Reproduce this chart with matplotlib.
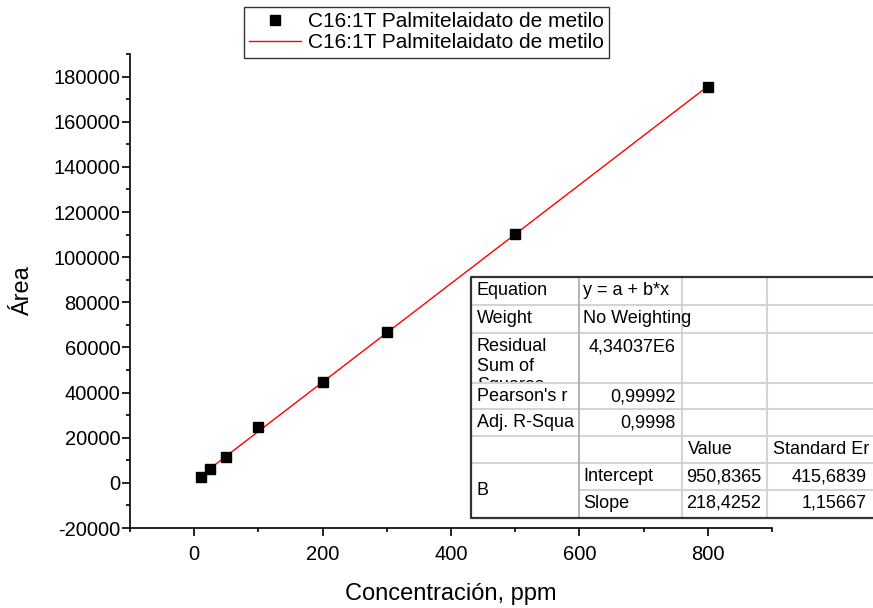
import numpy as np
import matplotlib.pyplot as plt
from matplotlib.lines import Line2D
from matplotlib.ticker import MultipleLocator

plt.rcParams['font.family'] = ['Liberation Sans', 'DejaVu Sans']
plt.rcParams['axes.unicode_minus'] = False

# --- Datos ---
conc = [10, 25, 50, 100, 200, 300, 500, 800]
area = [2500, 6000, 11400, 24600, 44500, 67000, 110400, 175200]
intercept = 950.8365
slope = 218.4252
serie = 'C16:1T Palmitelaidato de metilo'

# texto de la tabla de ajuste (fila por fila, 4 columnas)
tabla = [
    ['Equation', 'y = a + b*x', '', ''],
    ['Weight', 'No Weighting', '', ''],
    ['Residual\nSum of\nSquares', '4,34037E6', '', ''],
    ["Pearson's r", '0,99992', '', ''],
    ['Adj. R-Squa', '0,9998', '', ''],
    ['', '', 'Value', 'Standard Er'],
    ['', 'Intercept', '950,8365', '415,6839'],
    ['', 'Slope', '218,4252', '1,15667'],
]

W, H = 873, 608
fig = plt.figure(figsize=(W / 100, H / 100), dpi=100)
ax = fig.add_axes([130 / W, 1 - 528 / H, (772 - 130) / W, (528 - 54) / H])

ax.plot(conc, area, 's', color='black', markersize=7.7, label=serie, zorder=3)
xfit = np.array([conc[0], conc[-1]])
ax.plot(xfit, intercept + slope * xfit, '-', color='red', lw=1, label=serie, zorder=2)

ax.set_xlim(-100, 900)
ax.set_ylim(-20000, 190000)
ax.xaxis.set_minor_locator(MultipleLocator(100))
ax.yaxis.set_minor_locator(MultipleLocator(10000))
ax.set_yticks(np.arange(-20000, 180001, 20000))
ax.set_xticks(np.arange(0, 801, 200))
for s in ['top', 'right']:
    ax.spines[s].set_visible(False)
for s in ['left', 'bottom']:
    ax.spines[s].set_linewidth(1.2)
ax.tick_params(which='major', length=6, width=1.2, labelsize=14.5, direction='out')
ax.tick_params(which='minor', length=3.2, width=1.2, direction='out')
ax.tick_params(axis='x', which='major', pad=6)
ax.tick_params(axis='y', which='major', pad=1)
ax.set_xlabel('Concentración, ppm', fontsize=17)
ax.xaxis.set_label_coords(0.5, -0.115)
ax.set_ylabel('Área', fontsize=17)
ax.yaxis.set_label_coords(-0.15, 0.5)

leg = fig.legend(loc='upper left', bbox_to_anchor=(244 / W, 1 - 7 / H), fontsize=15,
                 frameon=True, fancybox=False, edgecolor='black', borderpad=0.25,
                 labelspacing=0.1, handlelength=2.5, handletextpad=0.3, borderaxespad=0)
leg.get_frame().set_linewidth(1)

# --- Tabla de ajuste dibujada a mano (coordenadas en pixeles) ---
cols = [471, 579, 682, 767, 873]
rows = [277, 305, 333, 383, 409, 436, 463, 490, 518]


def fx(px):
    return px / W


def fy(py):
    return 1 - py / H


fig.patches.append(plt.Rectangle((fx(cols[0]), fy(rows[-1])), fx(cols[-1] - cols[0]),
                                 (rows[-1] - rows[0]) / H, transform=fig.transFigure,
                                 facecolor='white', edgecolor='none', zorder=4))
gris = '#d4d4d4'
# lineas horizontales internas
for i, r in enumerate(rows[1:-1], start=1):
    x0 = cols[1] if i == 7 else cols[0]
    fig.add_artist(Line2D([fx(x0), fx(cols[-1])], [fy(r), fy(r)], color=gris, lw=1.5, zorder=6.8))
# lineas verticales internas
fig.add_artist(Line2D([fx(cols[1])] * 2, [fy(rows[0]), fy(rows[-1])], color='#a8a8a8', lw=1.2, zorder=6.8))
for c in cols[2:4]:
    fig.add_artist(Line2D([fx(c)] * 2, [fy(rows[0]), fy(rows[-1])], color=gris, lw=1.5, zorder=6.8))
# borde exterior
fig.add_artist(Line2D([fx(cols[-1]), fx(cols[0]), fx(cols[0]), fx(cols[-1])],
                      [fy(rows[0]), fy(rows[0]), fy(rows[-1]), fy(rows[-1])],
                      color='#333333', lw=1.6, zorder=6.9))

# texto
der = {(2, 1), (3, 1), (4, 1), (6, 2), (6, 3), (7, 2), (7, 3)}
for i, fila in enumerate(tabla):
    for j, txt in enumerate(fila):
        if not txt:
            continue
        if (i, j) in der:
            x = fx(cols[j + 1] - 6)
            ha = 'right'
        else:
            x = fx(cols[j] + (4 if j == 1 else 6))
            ha = 'left'
        z = 6 if (i, j) == (2, 0) else 7
        fig.text(x, fy(rows[i] + 5), txt, ha=ha, va='top', fontsize=13,
                 linespacing=1.2, zorder=z)
fig.text(fx(cols[0] + 6), fy((rows[6] + rows[8]) / 2), 'B', ha='left', va='center',
         fontsize=13, zorder=7)
# "Squares" queda cortado por la celda de abajo
fig.patches.append(plt.Rectangle((fx(cols[0] + 2), fy(rows[3] + 20)), fx(cols[1] - cols[0] - 4),
                                 20 / H, transform=fig.transFigure, facecolor='white',
                                 edgecolor='none', zorder=6.5))

fig.savefig('out.png', dpi=100)
